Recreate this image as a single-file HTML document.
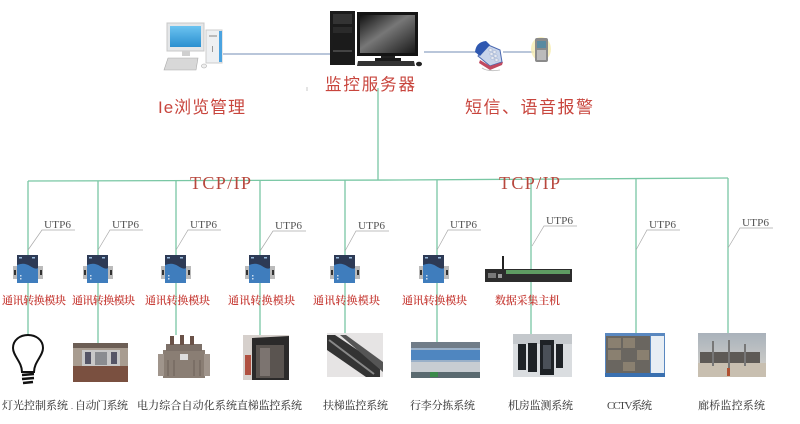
<!DOCTYPE html>
<html><head><meta charset="utf-8">
<style>
html,body{margin:0;padding:0;background:#fff;}
svg{display:block;}
.red{fill:#c8403a;font-family:"Liberation Serif","Noto Serif CJK SC",serif;font-weight:600;}
.redsans{fill:#c8453d;font-family:"Liberation Sans","Noto Sans CJK SC",sans-serif;}
.utp{fill:#555;font-family:"Liberation Serif",serif;font-size:11px;}
.bot{fill:#444;font-family:"Liberation Serif","Noto Serif CJK SC",serif;font-size:11px;font-weight:500;}
.tcp{fill:#b8473d;font-family:"Liberation Serif",serif;font-size:18px;}
</style></head>
<body>
<svg width="800" height="424" viewBox="0 0 800 424" xmlns="http://www.w3.org/2000/svg">
<defs>
<linearGradient id="scr" x1="0" y1="0" x2="1" y2="1">
<stop offset="0" stop-color="#111"/><stop offset="0.45" stop-color="#777"/><stop offset="1" stop-color="#1a1a1a"/>
</linearGradient>
<linearGradient id="blue" x1="0" y1="0" x2="0" y2="1">
<stop offset="0" stop-color="#6cc3f0"/><stop offset="1" stop-color="#2a8fd0"/>
</linearGradient>
<linearGradient id="sky" x1="0" y1="0" x2="0" y2="1">
<stop offset="0" stop-color="#a9b2bb"/><stop offset="1" stop-color="#d8d4cc"/>
</linearGradient>
<g id="mod">
<rect x="-15" y="266" width="5" height="13" fill="#bbb"/>
<rect x="10" y="266" width="5" height="13" fill="#bbb"/>
<rect x="-14" y="270" width="2" height="5" fill="#333"/>
<rect x="12" y="270" width="2" height="5" fill="#333"/>
<rect x="-11" y="255" width="21" height="28" fill="#2d3a55"/>
<path d="M-11 265 Q-4 262 2 266 T10 268 L10 283 L-11 283Z" fill="#3f7dbd"/>
<rect x="-9" y="257" width="3" height="1.5" fill="#9bd"/>
<rect x="4" y="257" width="3" height="1.5" fill="#9bd"/>
<rect x="-8" y="275" width="1.5" height="1.5" fill="#cde"/>
<rect x="-8" y="278" width="1.5" height="1.5" fill="#cde"/>
</g>
</defs>

<!-- top connections -->
<line x1="223" y1="54" x2="330" y2="54" stroke="#8fa3c4" stroke-width="1.2"/>
<line x1="424" y1="52" x2="476" y2="52" stroke="#8fa3c4" stroke-width="1.2"/>
<line x1="503" y1="52" x2="534" y2="52" stroke="#8fa3c4" stroke-width="1.2"/>

<!-- left PC -->
<rect x="167" y="23" width="37" height="28" fill="#e4e6e8" stroke="#c8c8c8"/>
<rect x="170" y="26" width="31" height="21" fill="url(#blue)"/>
<rect x="182" y="51" width="8" height="5" fill="#cfcfcf"/>
<rect x="206" y="30" width="16" height="33" fill="#eef0f2" stroke="#ccc"/>
<rect x="219" y="31" width="3" height="31" fill="#4aa3e0"/>
<rect x="209" y="35" width="8" height="2" fill="#bbb"/>
<rect x="212" y="46" width="1" height="6" fill="#999"/>
<path d="M168 58 L198 58 L196 70 L164 70Z" fill="#d8d8d8" stroke="#aaa" stroke-width="0.6"/>
<ellipse cx="204" cy="66" rx="2.5" ry="2" fill="#eee" stroke="#aaa" stroke-width="0.6"/>

<!-- server -->
<rect x="330" y="11" width="25" height="54" fill="#1b1b1b"/>
<rect x="333" y="14" width="19" height="10" fill="#333"/>
<rect x="333" y="27" width="19" height="6" fill="#2a2a2a"/>
<rect x="333" y="50" width="19" height="2" fill="#444"/>
<rect x="357" y="12" width="61" height="44" fill="#141414"/>
<rect x="360" y="15" width="55" height="38" fill="url(#scr)"/>
<rect x="381" y="56" width="14" height="5" fill="#222"/>
<rect x="375" y="58" width="26" height="3" fill="#1a1a1a"/>
<path d="M358 61 L414 61 L415 66 L357 66Z" fill="#333"/>
<ellipse cx="419" cy="64" rx="3" ry="2.3" fill="#222"/>

<!-- phone -->
<g>
<path d="M478 56 L486 44 L500 50 L502 62 L490 66 Z" fill="#c8d4ea" stroke="#4a68b0" stroke-width="1"/>
<path d="M475 52 Q476 42 486 41 L490 45 L480 56 Z" fill="#2f58b0"/>
<path d="M480 60 L490 66 L503 62 L502 65 L490 70 L479 63 Z" fill="#c04a60"/>
<g fill="#fff" stroke="#8896b8" stroke-width="0.4">
<rect x="489" y="49" width="3" height="2"/><rect x="493" y="51" width="3" height="2"/><rect x="490" y="53" width="3" height="2"/><rect x="494" y="55" width="3" height="2"/><rect x="491" y="57" width="3" height="2"/><rect x="495" y="59" width="3" height="2"/>
</g>
<path d="M482 68 Q488 72 500 70" stroke="#bbb" stroke-width="0.8" fill="none"/>
</g>
<!-- mobile -->
<ellipse cx="541" cy="49" rx="10" ry="12" fill="#f6ecb0" opacity="0.8"/>
<rect x="535" y="38" width="13" height="24" rx="2" fill="#8a8a8a"/>
<rect x="537" y="41" width="9" height="7" fill="#5a8aa0"/>
<rect x="537" y="50" width="9" height="10" fill="#bbb"/>

<!-- top labels -->
<text x="325" y="90" class="redsans" font-size="16.5" textLength="90" lengthAdjust="spacing">监控服务器</text>
<text x="158" y="113" class="redsans" font-size="17" textLength="87" lengthAdjust="spacing">Ie浏览管理</text>
<text x="465" y="113" class="redsans" font-size="17" textLength="128" lengthAdjust="spacing">短信、语音报警</text>
<line x1="307" y1="87" x2="307" y2="91" stroke="#bbb" stroke-width="0.8"/>

<!-- main trunk & bus -->
<g stroke="#79c7a4" stroke-width="1.3" fill="none">
<line x1="378" y1="88" x2="378" y2="180"/>
<polyline points="28,181 400,180 728,178"/>
<line x1="28" y1="181" x2="28" y2="337"/>
<line x1="98" y1="181" x2="98" y2="343"/>
<line x1="176" y1="181" x2="176" y2="335"/>
<line x1="260" y1="180" x2="260" y2="335"/>
<line x1="345" y1="180" x2="345" y2="333"/>
<line x1="437" y1="180" x2="437" y2="342"/>
<line x1="531" y1="180" x2="531" y2="334"/>
<line x1="636" y1="179" x2="636" y2="333"/>
<line x1="728" y1="178" x2="728" y2="333"/>
</g>

<!-- TCP/IP -->
<text x="190" y="189" class="tcp" textLength="61" lengthAdjust="spacing">TCP/IP</text>
<text x="499" y="189" class="tcp" textLength="61" lengthAdjust="spacing">TCP/IP</text>

<!-- UTP6 labels -->
<g stroke="#aaa" stroke-width="0.7" fill="none">
<polyline points="75,230 42,230 28,250"/>
<polyline points="143,230 110,230 98,250"/>
<polyline points="221,230 188,230 176,250"/>
<polyline points="306,231 273,231 260,251"/>
<polyline points="389,231 356,231 345,251"/>
<polyline points="481,230 448,230 437,250"/>
<polyline points="577,226 544,226 532,246"/>
<polyline points="680,230 647,230 636,250"/>
<polyline points="773,228 740,228 728,248"/>
</g>
<text x="44" y="228" class="utp" textLength="27" lengthAdjust="spacingAndGlyphs">UTP6</text>
<text x="112" y="228" class="utp" textLength="27" lengthAdjust="spacingAndGlyphs">UTP6</text>
<text x="190" y="228" class="utp" textLength="27" lengthAdjust="spacingAndGlyphs">UTP6</text>
<text x="275" y="229" class="utp" textLength="27" lengthAdjust="spacingAndGlyphs">UTP6</text>
<text x="358" y="229" class="utp" textLength="27" lengthAdjust="spacingAndGlyphs">UTP6</text>
<text x="450" y="228" class="utp" textLength="27" lengthAdjust="spacingAndGlyphs">UTP6</text>
<text x="546" y="224" class="utp" textLength="27" lengthAdjust="spacingAndGlyphs">UTP6</text>
<text x="649" y="228" class="utp" textLength="27" lengthAdjust="spacingAndGlyphs">UTP6</text>
<text x="742" y="226" class="utp" textLength="27" lengthAdjust="spacingAndGlyphs">UTP6</text>

<!-- modules -->
<use href="#mod" x="28"/>
<use href="#mod" x="98"/>
<use href="#mod" x="176"/>
<use href="#mod" x="260"/>
<use href="#mod" x="345"/>
<use href="#mod" x="434"/>

<!-- data host -->
<line x1="503" y1="256" x2="503" y2="270" stroke="#222" stroke-width="2"/>
<rect x="485" y="269" width="87" height="13" fill="#2c2c2c"/>
<rect x="506" y="270" width="64" height="4" fill="#5e9c62"/>
<rect x="488" y="273" width="8" height="5" fill="#777"/>
<rect x="498" y="274" width="4" height="4" fill="#999"/>

<!-- module labels -->
<g class="red" font-size="11">
<text x="2" y="304" textLength="64" lengthAdjust="spacing">通讯转换模块</text>
<text x="72" y="304" textLength="63" lengthAdjust="spacing">通讯转换模块</text>
<text x="145" y="304" textLength="65" lengthAdjust="spacing">通讯转换模块</text>
<text x="228" y="304" textLength="67" lengthAdjust="spacing">通讯转换模块</text>
<text x="313" y="304" textLength="67" lengthAdjust="spacing">通讯转换模块</text>
<text x="402" y="304" textLength="65" lengthAdjust="spacing">通讯转换模块</text>
<text x="495" y="304" textLength="65" lengthAdjust="spacing">数据采集主机</text>
</g>

<!-- bottom images -->
<!-- bulb -->
<path d="M22 372 C22 362 13 356 13 348 C13 340 20 335 28 335 C36 335 43 340 43 348 C43 356 34 362 34 372 Z" fill="#fff" stroke="#111" stroke-width="2"/>
<g stroke="#111" stroke-width="2.5">
<line x1="22" y1="375" x2="34" y2="374"/>
<line x1="22" y1="379" x2="34" y2="378"/>
<line x1="23" y1="383" x2="33" y2="382"/>
</g>
<!-- door -->
<rect x="73" y="343" width="55" height="39" fill="#a89c90"/>
<rect x="73" y="343" width="55" height="5" fill="#6c5e55"/>
<rect x="73" y="366" width="55" height="16" fill="#7a5040"/>
<rect x="82" y="350" width="38" height="16" fill="#c8c8c8"/>
<rect x="85" y="352" width="6" height="12" fill="#556"/>
<rect x="95" y="352" width="12" height="13" fill="#8a8c90"/>
<rect x="111" y="352" width="6" height="12" fill="#556"/>
<!-- transformer -->
<rect x="163" y="350" width="42" height="28" fill="#8a7e74"/>
<rect x="158" y="354" width="6" height="22" fill="#a0958c"/>
<rect x="204" y="354" width="6" height="22" fill="#a0958c"/>
<rect x="166" y="344" width="36" height="7" fill="#7c7068"/>
<g fill="#6a5248"><rect x="170" y="336" width="4" height="9"/><rect x="180" y="335" width="4" height="10"/><rect x="190" y="336" width="4" height="9"/></g>
<rect x="180" y="354" width="8" height="6" fill="#ddd"/>
<g stroke="#6c6058" stroke-width="1"><line x1="168" y1="360" x2="168" y2="376"/><line x1="174" y1="360" x2="174" y2="376"/><line x1="194" y1="360" x2="194" y2="376"/><line x1="200" y1="360" x2="200" y2="376"/></g>
<!-- elevator -->
<rect x="243" y="335" width="46" height="45" fill="#d6d0cc"/>
<path d="M252 338 L289 336 L289 380 L252 380 Z" fill="#2b2a2a"/>
<rect x="256" y="345" width="28" height="33" fill="#5a5450"/>
<rect x="260" y="348" width="10" height="28" fill="#7c7470"/>
<rect x="245" y="355" width="6" height="20" fill="#b05040"/>
<!-- escalator -->
<rect x="327" y="333" width="56" height="44" fill="#e6e4e4"/>
<path d="M327 335 L335 335 L380 365 L380 377 L366 377 L327 350 Z" fill="#333"/>
<path d="M340 335 L346 335 L383 362 L383 372 Z" fill="#555"/>
<path d="M329 340 L374 374" stroke="#888" stroke-width="2"/>
<!-- baggage -->
<rect x="411" y="342" width="69" height="36" fill="#9ab0c8"/>
<rect x="411" y="342" width="69" height="6" fill="#707c88"/>
<rect x="411" y="350" width="69" height="10" fill="#4f86c0"/>
<rect x="411" y="362" width="69" height="10" fill="#c8cdd2"/>
<rect x="411" y="372" width="69" height="6" fill="#5a6a70"/>
<rect x="430" y="372" width="8" height="5" fill="#3a8a4a"/>
<!-- server room -->
<rect x="513" y="334" width="59" height="43" fill="#dadde0"/>
<rect x="513" y="334" width="59" height="10" fill="#c4c8cc"/>
<g fill="#1e2226"><rect x="518" y="344" width="8" height="26"/><rect x="528" y="343" width="9" height="29"/><rect x="540" y="340" width="14" height="35"/><rect x="556" y="344" width="7" height="24"/></g>
<rect x="543" y="345" width="8" height="24" fill="#4a5058"/>
<!-- cctv -->
<rect x="605" y="333" width="60" height="44" fill="#5a88c0"/>
<rect x="606" y="336" width="44" height="37" fill="#6a6660"/>
<g fill="#8a8070"><rect x="608" y="338" width="13" height="10"/><rect x="623" y="338" width="12" height="10"/><rect x="608" y="350" width="13" height="10"/><rect x="637" y="350" width="12" height="10"/><rect x="623" y="362" width="12" height="9"/></g>
<rect x="651" y="336" width="13" height="37" fill="#e8eef4"/>
<rect x="605" y="373" width="60" height="4" fill="#3a70b0"/>
<!-- bridge -->
<rect x="698" y="333" width="68" height="44" fill="url(#sky)"/>
<rect x="698" y="363" width="68" height="14" fill="#c8bfb0"/>
<rect x="700" y="352" width="60" height="11" fill="#5e5a56"/>
<g fill="#777"><rect x="712" y="341" width="2" height="25"/><rect x="728" y="340" width="2" height="30"/><rect x="744" y="344" width="2" height="22"/></g>
<rect x="727" y="368" width="3" height="8" fill="#b05030"/>

<!-- bottom labels -->
<g class="bot">
<text x="2" y="409" textLength="66" lengthAdjust="spacing">灯光控制系统</text>
<text x="71" y="409" font-size="8">.</text>
<text x="75" y="409" textLength="53" lengthAdjust="spacing">自动门系统</text>
<text x="137" y="409" textLength="100" lengthAdjust="spacing">电力综合自动化系统</text>
<text x="237" y="409" textLength="65" lengthAdjust="spacing">直梯监控系统</text>
<text x="323" y="409" textLength="65" lengthAdjust="spacing">扶梯监控系统</text>
<text x="410" y="409" textLength="65" lengthAdjust="spacing">行李分拣系统</text>
<text x="508" y="409" textLength="65" lengthAdjust="spacing">机房监测系统</text>
<text x="607" y="409" textLength="45" lengthAdjust="spacing">CCTV系统</text>
<text x="698" y="409" textLength="67" lengthAdjust="spacing">廊桥监控系统</text>
</g>
</svg>
</body></html>
